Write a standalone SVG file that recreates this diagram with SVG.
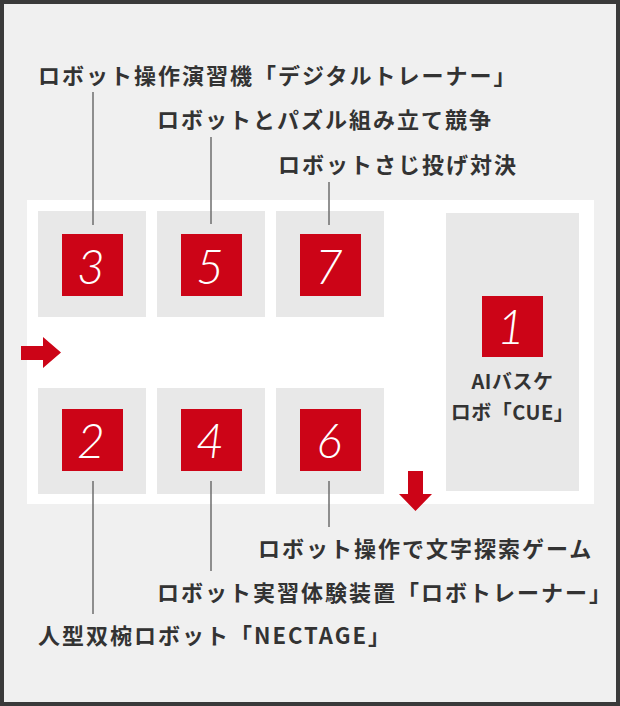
<svg xmlns="http://www.w3.org/2000/svg" width="620" height="706" viewBox="0 0 620 706">
<style>
.box{fill:#e8e8e8}
.sq{fill:#cc0417}
.num{fill:#fff;font-family:Lato,"Open Sans","Noto Sans",sans-serif;font-weight:300;font-style:italic;font-size:48px;text-anchor:middle}
.lbl{fill:#333;font-family:"Noto Sans CJK JP","Noto Sans",sans-serif;font-weight:700;font-size:22px;letter-spacing:2px}
.in{fill:#333;font-family:"Noto Sans CJK JP","Noto Sans",sans-serif;font-weight:700;font-size:20px;text-anchor:middle;letter-spacing:0.5px}
.con line{stroke:#6e6e6e;stroke-width:1.5}
.arr{fill:#cc0417}
</style>
<rect x="0" y="0" width="620" height="706" fill="#3a3a3a"/>
<rect x="4" y="4" width="612" height="698" fill="#f0f0f0"/>
<rect x="27" y="200" width="567" height="304" fill="#fff"/>

<g id="station-3">
<rect class="box" x="38" y="211" width="108" height="106"/>
<rect class="sq" x="62" y="234" width="61" height="62"/>
<text class="num" x="91" y="284">3</text>
<text class="lbl" x="38" y="84">ロボット操作演習機「デジタルトレーナー」</text>
</g>
<g id="station-5">
<rect class="box" x="157" y="211" width="108" height="106"/>
<rect class="sq" x="181" y="234" width="61" height="62"/>
<text class="num" x="210" y="284">5</text>
<text class="lbl" x="157" y="127.5">ロボットとパズル組み立て競争</text>
</g>
<g id="station-7">
<rect class="box" x="276" y="211" width="108" height="106"/>
<rect class="sq" x="300" y="234" width="61" height="62"/>
<text class="num" x="329" y="284">7</text>
<text class="lbl" x="278" y="173">ロボットさじ投げ対決</text>
</g>
<g id="station-2">
<rect class="box" x="38" y="388" width="108" height="106"/>
<rect class="sq" x="62" y="409" width="61" height="62"/>
<text class="num" x="91" y="457.5">2</text>
<text class="lbl" x="38" y="644">人型双椀ロボット「NECTAGE」</text>
</g>
<g id="station-4">
<rect class="box" x="157" y="388" width="108" height="106"/>
<rect class="sq" x="181" y="409" width="61" height="62"/>
<text class="num" x="210" y="457.5">4</text>
<text class="lbl" x="157" y="600.5">ロボット実習体験装置「ロボトレーナー」</text>
</g>
<g id="station-6">
<rect class="box" x="276" y="388" width="108" height="106"/>
<rect class="sq" x="300" y="409" width="61" height="62"/>
<text class="num" x="329" y="457.5">6</text>
<text class="lbl" x="258" y="557">ロボット操作で文字探索ゲーム</text>
</g>
<g id="station-1">
<rect class="box" x="446" y="213" width="133" height="278"/>
<rect class="sq" x="482" y="296" width="61" height="61"/>
<text class="num" x="511" y="343.5">1</text>
<text class="in" x="512.5" y="388.5">AIバスケ</text>
<text class="in" x="512.5" y="420">ロボ「CUE」</text>
</g>

<g id="connectors" class="con">
<line x1="93" y1="92" x2="93" y2="225"/>
<line x1="211" y1="137" x2="211" y2="224"/>
<line x1="329" y1="182" x2="329" y2="225"/>
<line x1="93" y1="481" x2="93" y2="614"/>
<line x1="211" y1="481" x2="211" y2="571"/>
<line x1="329" y1="481" x2="329" y2="527"/>
</g>

<g id="flow-arrows">
<polygon class="arr" points="21,346 43,346 43,337 61,352.5 43,368 43,360 21,360"/>
<polygon class="arr" points="408,471 423,471 423,494 432,494 415.5,511 399,494 408,494"/>
</g>
</svg>
